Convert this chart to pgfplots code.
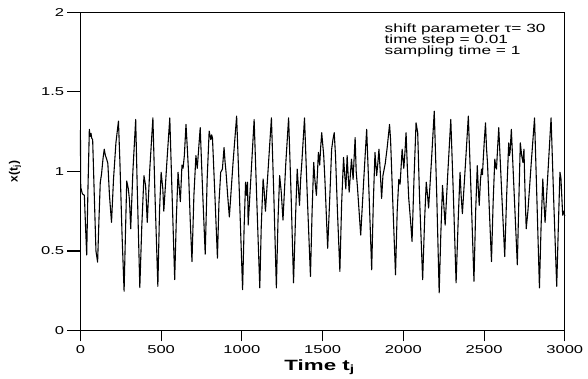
\documentclass[border=0pt]{standalone}
\usepackage{pgfplots}
\pgfplotsset{compat=1.18}
\usepackage{graphicx}
\usepackage{fontspec}
\setmainfont{Liberation Sans}
\newcommand{\wide}[1]{\scalebox{1.45}[1]{#1}}
\begin{document}
\begin{tikzpicture}
\begin{axis}[
  at={(0,0)}, anchor=south west,
  width=488pt, height=320.5pt, scale only axis,
  clip=false,
  xmin=0, xmax=3000, ymin=0, ymax=2,
  xtick={0,500,1000,1500,2000,2500,3000}, ytick={0,0.5,1,1.5,2},
  tick pos=left,
  tick align=outside,
  major tick length=0.38cm,
  line width=1.1pt,
  tick style={draw=black, line width=1.1pt},
  /pgf/number format/assume math mode=true,
  /pgf/number format/1000 sep={},
  ticklabel style={font=\fontsize{11.5}{13}\selectfont, xscale=1.45},
  xlabel={\scalebox{1.5}[1]{\bfseries Time t\textsubscript{j}}},
  xlabel style={at={(axis description cs:0.494,-0.115)}, anchor=center, font=\fontsize{15}{17}\selectfont},
]
\addplot[black, line width=1.1pt, line join=round] coordinates {
(0,1.26) (2,0.90) (12,0.86) (24.6,0.85) (32,0.65) (39,0.475) (47,0.9) (55.4,1.265) (60,1.22) (65.6,1.24) (70,1.21) (75.9,1.20) (86,0.85) (96.4,0.50) (106.6,0.43) (115,0.7) (123,0.93) (131,0.985) (140,1.08) (147.6,1.14) (155,1.10) (162,1.08) (170,1.05) (180,0.85) (192.7,0.68) (205,0.95) (220,1.18) (235.7,1.317) (245,1.05) (258,0.6) (270.6,0.247) (280,0.65) (287,0.94) (297,0.89) (304,0.82) (311.6,0.64) (325,1.0) (342.4,1.327) (352,0.9) (368,0.27) (380,0.65) (393.7,0.974) (404,0.91) (414,0.68) (430,1.02) (449,1.337) (462,0.85) (479.7,0.278) (490,0.75) (500,0.995) (510.5,0.89) (516.6,0.75) (535,1.05) (553.6,1.337) (568,0.85) (584,0.32) (594,0.7) (604.8,0.995) (612,0.9) (619,0.81) (629,1.04) (636,1.02) (643.8,1.10) (654,1.296) (662,1.15) (670,0.99) (680,0.7) (691,0.434) (703,0.85) (715.5,1.10) (723.7,1.02) (742,1.275) (758,0.85) (773,0.48) (785,0.95) (797.5,1.254) (807.7,1.20) (813,1.23) (818,1.21) (833,0.85) (848.7,0.455) (858,0.8) (869,0.995) (879.5,1.015) (889.7,1.15) (896,1.06) (902,0.995) (912,0.85) (922.5,0.714) (945,1.05) (967.6,1.348) (985,0.85) (1004.5,0.257) (1014,0.65) (1023,0.933) (1029,0.85) (1035,0.933) (1039,0.663) (1058,1.0) (1076,1.327) (1093,0.8) (1111,0.268) (1120,0.65) (1131.6,0.953) (1138,0.88) (1146,0.75) (1165,1.05) (1183,1.337) (1198,0.85) (1213.7,0.268) (1224,0.7) (1234,0.974) (1244,0.87) (1254.7,0.694) (1272,1.05) (1289.5,1.337) (1305,0.85) (1320,0.30) (1332,0.7) (1342.8,1.015) (1350,0.9) (1357,0.787) (1364,0.95) (1371.5,1.057) (1388,1.337) (1405,0.85) (1424.8,0.34) (1435,0.75) (1445,1.057) (1452,0.95) (1461.7,0.85) (1474,1.12) (1482,1.04) (1488,1.15) (1494.5,1.244) (1500,1.18) (1507,1.10) (1515,0.933) (1531.4,0.517) (1545,0.85) (1556,1.14) (1564,1.2) (1572,1.244) (1580,1.1) (1592,0.75) (1607,0.372) (1618,0.8) (1629.8,1.088) (1637,0.98) (1644,0.89) (1652,1.10) (1658,0.98) (1664.6,0.87) (1672,0.98) (1679,1.078) (1689,0.95) (1695,1.08) (1701.5,1.213) (1708,1.0) (1716,0.90) (1726,0.75) (1736,0.60) (1755,0.95) (1773,1.265) (1788,0.85) (1804,0.382) (1814,0.8) (1824.5,1.12) (1834.8,0.974) (1842,1.05) (1849,1.14) (1857,1.0) (1865.5,0.83) (1873.7,0.974) (1888,1.05) (1900,1.15) (1914.7,1.296) (1921,1.20) (1935,0.8) (1951.6,0.35) (1962,0.75) (1972,0.95) (1980,0.92) (1992.7,1.14) (2003,1.02) (2010,1.12) (2017,1.244) (2025,1.02) (2033.6,0.83) (2044,0.7) (2054,0.56) (2066,0.95) (2078.8,1.306) (2089,1.244) (2100,0.85) (2119.7,0.32) (2132,0.7) (2142,0.933) (2150,0.85) (2156.6,0.77) (2175,1.08) (2191.5,1.379) (2207,0.85) (2222,0.237) (2232,0.6) (2242.8,0.912) (2250,0.8) (2259,0.663) (2276,1.0) (2294,1.327) (2310,0.85) (2326.8,0.30) (2340,0.7) (2351.4,0.995) (2358,0.85) (2365.8,0.735) (2385,1.05) (2402.6,1.348) (2420,0.85) (2437.5,0.31) (2448,0.75) (2458,1.036) (2464,0.9) (2470,0.787) (2478,0.95) (2484.6,1.015) (2490,0.98) (2495,1.078) (2502,1.2) (2509,1.306) (2515,1.15) (2521.5,1.05) (2533,0.75) (2546,0.434) (2556,0.8) (2566.6,1.078) (2572,1.03) (2577,1.015) (2584,1.15) (2591,1.275) (2610,0.85) (2628,0.465) (2640,0.85) (2652.7,1.18) (2657,1.1) (2661,1.12) (2669,1.265) (2687,0.85) (2706,0.413) (2715,0.8) (2724.5,1.18) (2733,1.1) (2740.9,1.057) (2747,1.14) (2753,0.9) (2761,0.64) (2771.6,0.75) (2792,1.05) (2812.6,1.337) (2828,0.8) (2843,0.268) (2853,0.65) (2863.9,0.953) (2870,0.82) (2878,0.68) (2896,1.0) (2915,1.337) (2932,0.8) (2950,0.278) (2960,0.65) (2970,0.995) (2976,0.96) (2987,0.725) (2993,0.75) (3000,0.72)
};
\pgfplotsinvokeforeach{0,500,1000,1500,2000,2500,3000}{\draw[line width=1.1pt, black] (axis cs:#1,0) -- ++(0pt,-10pt);}
\pgfplotsinvokeforeach{0,0.5,1,1.5,2}{\draw[line width=1.1pt, black] (axis cs:0,#1) -- ++(-14pt,0pt);}
\node[rotate=90, font=\fontsize{12}{14}\selectfont\bfseries] at (axis description cs:-0.135,0.5) {x(t\textsubscript{j})};
\node[anchor=west, inner sep=0pt, font=\fontsize{12}{14}\selectfont] at (axis description cs:0.627,0.948) {\wide{shift parameter τ= 30}};
\node[anchor=west, inner sep=0pt, font=\fontsize{12}{14}\selectfont] at (axis description cs:0.627,0.912) {\wide{time step = 0.01}};
\node[anchor=west, inner sep=0pt, font=\fontsize{12}{14}\selectfont] at (axis description cs:0.627,0.876) {\wide{sampling time = 1}};
\end{axis}
\path[use as bounding box] (-81pt,-46pt) rectangle (507pt,333pt);
\end{tikzpicture}
\end{document}
